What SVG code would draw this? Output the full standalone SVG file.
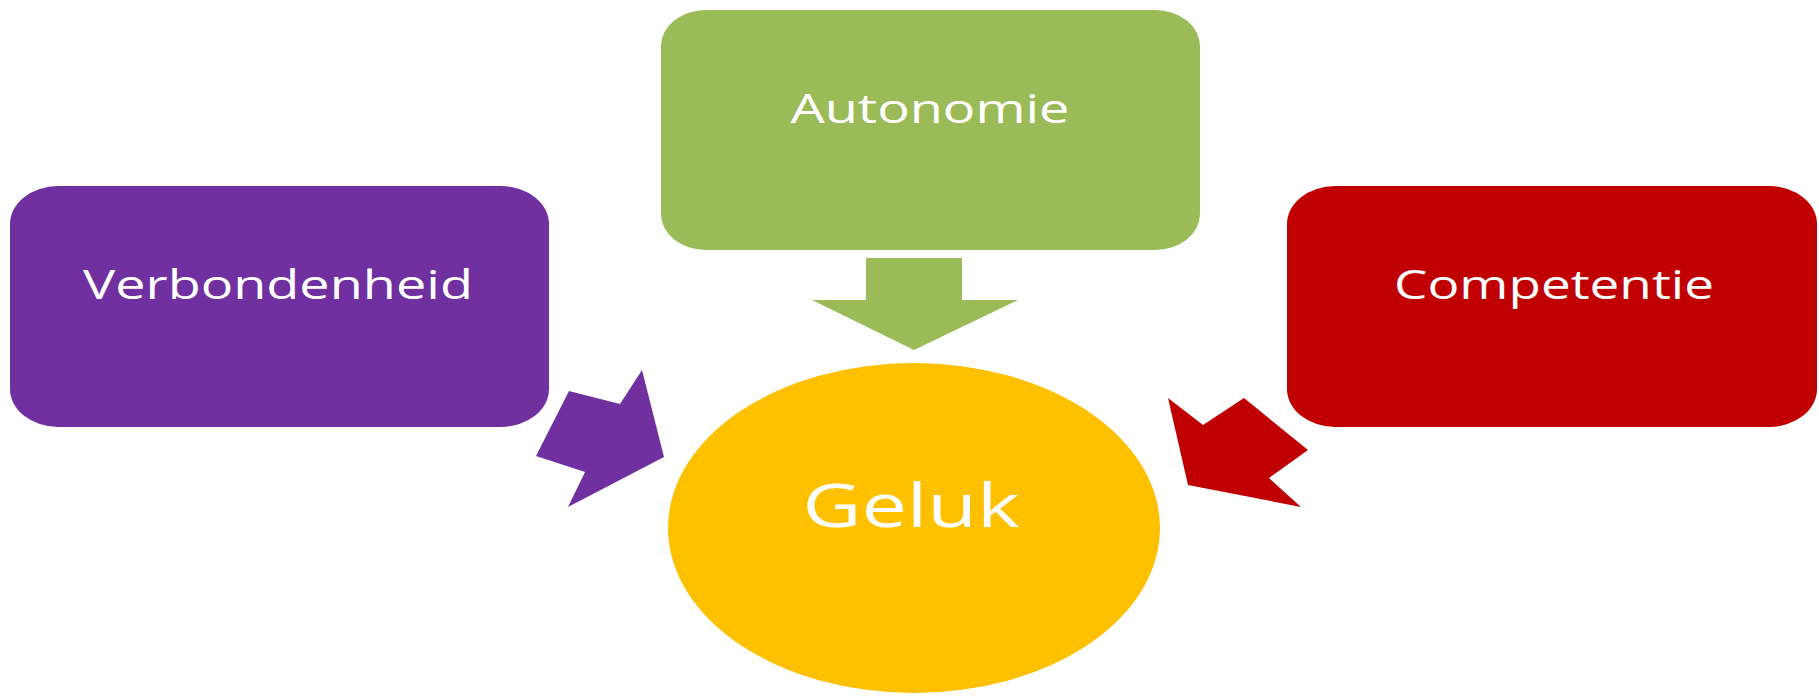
<svg xmlns="http://www.w3.org/2000/svg" width="1819" height="697" viewBox="0 0 1819 697">
<style>
.lbl{font-family:"Open Sans","DejaVu Sans",sans-serif;fill:#FFFFFF;text-anchor:middle}
.box{font-size:41px}
</style>
<rect width="1819" height="697" fill="#FFFFFF"/>
<g id="connectors">
<polygon fill="#9BBB59" points="866,258 962,258 962,300 1018,300 914,350 812,300 866,300"/>
<polygon fill="#7030A0" points="536,456 569,391 620,404 642,370 664,457 568,507 585,472"/>
<polygon fill="#C00000" points="1168,398 1203,425 1244,398 1308,450 1269,478 1301,507 1188,485"/>
</g>
<g id="node-autonomie">
<rect x="661" y="10" width="539" height="240" rx="45" ry="36" fill="#9BBB59"/>
<text class="lbl box" x="930" y="123" textLength="279" lengthAdjust="spacingAndGlyphs">Autonomie</text>
</g>
<g id="node-verbondenheid">
<rect x="10" y="186" width="539" height="241" rx="48" ry="38" fill="#7030A0"/>
<text class="lbl box" x="278" y="299" textLength="390" lengthAdjust="spacingAndGlyphs">Verbondenheid</text>
</g>
<g id="node-competentie">
<rect x="1287" y="186" width="530" height="241" rx="48" ry="38" fill="#C00000"/>
<text class="lbl box" x="1554" y="299" textLength="320" lengthAdjust="spacingAndGlyphs">Competentie</text>
</g>
<g id="node-geluk">
<ellipse cx="914" cy="528" rx="246" ry="165" fill="#FFC000"/>
<text class="lbl" x="911" y="527" font-size="60" textLength="217" lengthAdjust="spacingAndGlyphs">Geluk</text>
</g>
</svg>
